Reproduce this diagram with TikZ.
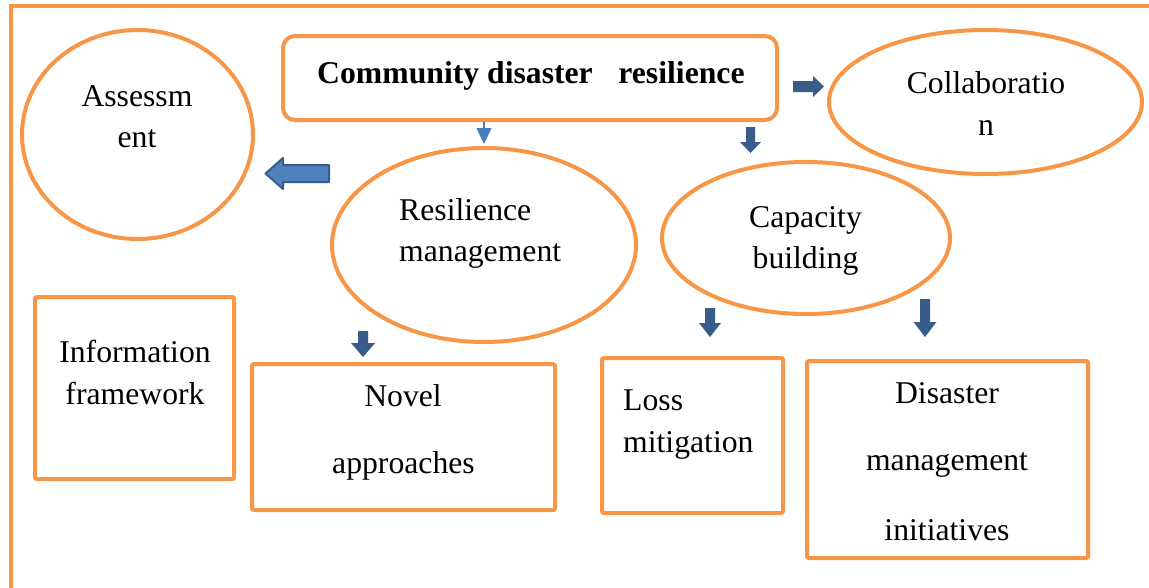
\documentclass[tikz,border=0pt]{standalone}
\usepackage{fontspec}
\setmainfont{Liberation Serif}
\usetikzlibrary{arrows.meta,shapes.geometric}
\definecolor{orng}{HTML}{F79646}
\definecolor{dblue}{HTML}{385D8A}
\definecolor{mblue}{HTML}{4F81BD}
\definecolor{lblue}{HTML}{4A7EBB}
% cx, top, headstart, shaft half width, head half width, tip
\newcommand{\blockdown}[6]{\fill[dblue] (#1-#4,#2) -- (#1+#4,#2) -- (#1+#4,#3) -- (#1+#5,#3) -- (#1,#6) -- (#1-#5,#3) -- (#1-#4,#3) -- cycle;}
\tikzset{
  shapeline/.style={draw=orng, line width=4pt},
  ell/.style={shapeline, ellipse, inner sep=0pt},
  boxn/.style={shapeline, rectangle, rounded corners=2pt, inner sep=0pt},
  txt/.style={inner sep=0pt, font=\fontsize{31.7pt}{42pt}\selectfont, anchor=base},
  txtl/.style={txt, anchor=base west},
}
\begin{document}
\begin{tikzpicture}[x=1pt,y=-1pt]
\useasboundingbox (0,0) rectangle (1149,587);
\clip (0,0) rectangle (1149,587);
\fill[white] (0,0) rectangle (1149,587);
% outer frame (runs past the page)
\draw[orng, line width=4pt] (10.5,6) rectangle (1175,615);

% main shapes
\node[boxn, rounded corners=12pt, minimum width=494pt, minimum height=84pt] (title) at (530,78) {};
\node[ell, minimum width=231pt, minimum height=209pt] (assess) at (137.5,134.5) {};
\node[ell, minimum width=313pt, minimum height=144pt] (collab) at (985.5,102) {};
\node[ell, minimum width=304pt, minimum height=194pt] (resm) at (484,245) {};
\node[ell, minimum width=288pt, minimum height=152pt] (capb) at (806,238) {};
\node[boxn, minimum width=199pt, minimum height=182pt] (info) at (134.5,388) {};
\node[boxn, minimum width=303pt, minimum height=146pt] (novel) at (403.5,437) {};
\node[boxn, minimum width=181pt, minimum height=155pt] (loss) at (692.5,435.5) {};
\node[boxn, minimum width=281pt, minimum height=197pt] (dmi) at (947.5,459.5) {};

% texts
\node[txtl] (t-title) at (317,83) {\textbf{Community disaster\hspace{25.6pt}resilience}};
\node[txt] (t-as1) at (137,106) {Assessm};
\node[txt] (t-as2) at (137,147) {ent};
\node[txt] (t-co1) at (986,93) {Collaboratio};
\node[txt] (t-co2) at (986,135) {n};
\node[txtl] (t-rm1) at (399,220) {Resilience};
\node[txtl] (t-rm2) at (399,261) {management};
\node[txt] (t-cb1) at (805.5,227) {Capacity};
\node[txt] (t-cb2) at (805.5,268) {building};
\node[txt] (t-if1) at (135,362) {Information};
\node[txt] (t-if2) at (135,404) {framework};
\node[txt] (t-nv1) at (403,406) {Novel};
\node[txt] (t-nv2) at (403.5,473) {approaches};
\node[txtl] (t-lm1) at (623,410) {Loss};
\node[txtl] (t-lm2) at (623,452) {mitigation};
\node[txt] (t-dm1) at (947,403) {Disaster};
\node[txt] (t-dm2) at (947,470) {management};
\node[txt] (t-dm3) at (947,540) {initiatives};

% thin connector
\draw[lblue, line width=1.5pt, -{Triangle[width=15pt,length=16pt]}, shorten >=2pt] (title.south -| resm.north) -- (resm.north);

% block arrows
\fill[dblue] (793,81) -- (813,81) -- (813,76) -- (824,86.5) -- (813,97) -- (813,92) -- (793,92) -- cycle;
\filldraw[fill=mblue, draw=dblue, line width=2pt, line join=round] (329,165) -- (283,165) -- (283,158) -- (265.5,173.5) -- (283,189) -- (283,182) -- (329,182) -- cycle;
\blockdown{750.5}{127}{142}{4.5}{10.5}{153}
\blockdown{363}{331}{343}{5}{12}{357}
\blockdown{710}{308}{323}{5}{11}{337}
\blockdown{925}{299}{322}{5}{11.5}{337}
\end{tikzpicture}
\end{document}
